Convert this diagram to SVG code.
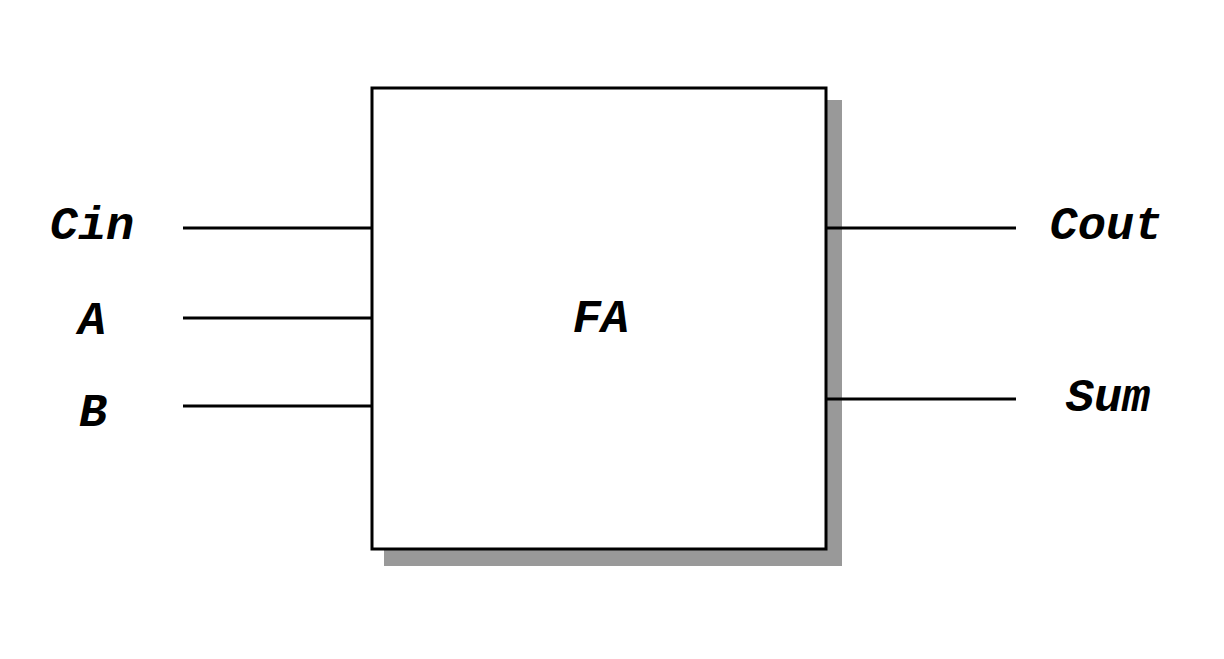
<svg xmlns="http://www.w3.org/2000/svg" width="1224" height="659" viewBox="0 0 1224 659">
<style>
.lbl{font-family:"Liberation Mono","Courier New",monospace;font-weight:bold;font-style:italic;font-size:47px;fill:#000;text-anchor:middle}
.wire{stroke:#000;stroke-width:3;fill:none}
</style>
<rect width="1224" height="659" fill="#fff"/>
<g id="fa">
<rect x="384" y="100" width="458" height="466" fill="#999"/>
<rect x="372" y="88" width="454" height="461" fill="#fff" stroke="#000" stroke-width="3"/>
<text class="lbl" x="601" y="332">FA</text>
</g>
<g id="connectors">
<line class="wire" x1="183" y1="228" x2="372" y2="228"/>
<line class="wire" x1="183" y1="318" x2="372" y2="318"/>
<line class="wire" x1="183" y1="406" x2="372" y2="406"/>
<line class="wire" x1="826" y1="228" x2="1016" y2="228"/>
<line class="wire" x1="826" y1="399" x2="1016" y2="399"/>
</g>
<g id="in-cin"><text class="lbl" x="92" y="239">Cin</text></g>
<g id="in-a"><text class="lbl" x="92" y="334">A</text></g>
<g id="in-b"><text class="lbl" x="93" y="426">B</text></g>
<g id="out-cout"><text class="lbl" x="1106" y="239">Cout</text></g>
<g id="out-sum"><text class="lbl" x="1108" y="411">Sum</text></g>
</svg>
